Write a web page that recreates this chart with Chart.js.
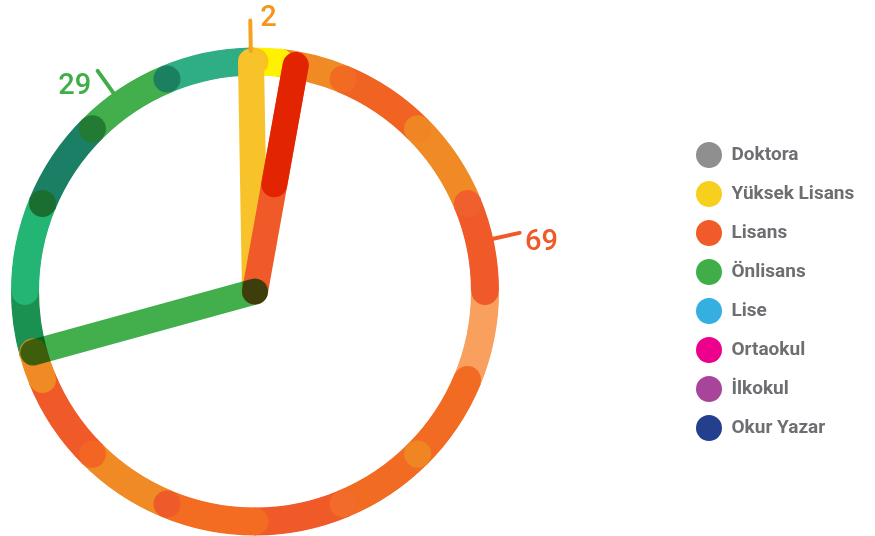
<!DOCTYPE html>
<html>
<head>
<meta charset="utf-8">
<script src="https://cdn.jsdelivr.net/npm/chart.js@4/dist/chart.umd.min.js"></script>
<style>
  html, body { margin: 0; padding: 0; background: #ffffff; overflow: hidden; }
  #wrap { width: 875px; height: 536px; position: relative; overflow: hidden; }
  #dial { position: absolute; top: 0; left: -173px; }
</style>
</head>
<body>
<div id="wrap"><canvas id="dial"></canvas></div>
<script>
// Education levels and their shares (percent)
const categories = ['Doktora', 'Yüksek Lisans', 'Lisans', 'Önlisans', 'Lise', 'Ortaokul', 'İlkokul', 'Okur Yazar'];
const values = [0, 2, 69, 29, 0, 0, 0, 0];
const categoryColors = ['#8f8f8f', '#f7cf1d', '#f15a29', '#3fae49', '#35aee0', '#ec008c', '#a8459a', '#233f8e'];

// Shades used for the ring pieces of each slice (pieces are cut every 1/16 turn)
const ringShades = {
  'Yüksek Lisans': ['#fff200'],
  'Lisans': ['#f08a24', '#f16322', '#f08a24', '#f05a28', '#f9a05e', '#f26b22',
             '#f26b22', '#f05a28', '#f36c21', '#f08a24', '#f05a28', '#f08a24'],
  'Önlisans': ['#1a9150', '#22b573', '#1a7f64', '#42ae4c', '#2fad85']
};
// Colours of the round joints between pieces
const jointShades = {
  'Yüksek Lisans': ['#fbc31a'],
  'Lisans': ['#f26b22', '#f08524', '#f0602e', '#f05a28', '#f26b22', '#f08524',
             '#f26b2a', '#f36c21', '#ef5a2a', '#f26522', '#f08a24'],
  'Önlisans': ['#22b573', '#1a6e30', '#237a33', '#1a8060']
};
// Needle drawn at the start of each slice
const needleStyle = {
  'Yüksek Lisans': { color: '#f8c22a', nudge: 0 },
  'Lisans': { color: '#f05a28', tip: '#e32400', tipFrom: 109, nudge: 4 },
  'Önlisans': { color: '#42ae4c', blend: 'multiply', nudge: 0 }
};
// Value callouts outside the ring (angle in degrees, clockwise from 12 o'clock)
const valueLabelStyle = {
  'Yüksek Lisans': { angle: -1, text: '#f7941d', tick: '#f6a21f', align: 'left', dx: 10, dy: 5.5 },
  'Lisans': { angle: 77.5, text: '#f05a28', tick: '#f05a28', align: 'left', dx: 5.5, dy: 17 },
  'Önlisans': { angle: 324.5, text: '#3fae49', tick: '#3fae49', align: 'right', dx: -6.5, dy: 23 }
};

const QUARTER = Math.PI / 2;
const STEP = Math.PI / 8;

const clockDial = {
  id: 'clockDial',
  afterDatasetsDraw(chart) {
    const ctx = chart.ctx;
    const meta = chart.getDatasetMeta(0);
    const data = chart.data.datasets[0].data;
    const labels = chart.data.labels;
    const arcs = meta.data;
    if (!arcs.length) return;
    const cx = arcs[0].x, cy = arcs[0].y;
    const mid = (arcs[0].innerRadius + arcs[0].outerRadius) / 2;
    const band = arcs[0].outerRadius - arcs[0].innerRadius;
    const at = (a, r) => [cx + Math.cos(a) * r, cy + Math.sin(a) * r];

    // split every non-empty slice at the 1/16-turn grid
    const pieces = arcs.map((arc, i) => {
      if (!data[i]) return null;
      const q0 = arc.startAngle + QUARTER, q1 = arc.endAngle + QUARTER;
      const cuts = [q0];
      for (let k = Math.ceil(q0 / STEP - 1e-9); k * STEP < q1 - 1e-9; k++) {
        if (k * STEP > q0 + 1e-9) cuts.push(k * STEP);
      }
      cuts.push(q1);
      return cuts;
    });

    ctx.save();
    ctx.lineCap = 'butt';
    ctx.lineWidth = band + 1;
    pieces.forEach((cuts, i) => {
      if (!cuts) return;
      const shades = ringShades[labels[i]];
      for (let j = 0; j < cuts.length - 1; j++) {
        ctx.beginPath();
        ctx.strokeStyle = shades[j % shades.length];
        ctx.arc(cx, cy, mid, cuts[j] - QUARTER - 0.004, cuts[j + 1] - QUARTER + 0.004);
        ctx.stroke();
      }
    });
    // rounded end of each slice, laid over the start of the next one
    pieces.forEach((cuts, i) => {
      if (!cuts) return;
      const shades = ringShades[labels[i]];
      const [x, y] = at(cuts[cuts.length - 1] - QUARTER, mid);
      ctx.beginPath();
      ctx.fillStyle = shades[(cuts.length - 2) % shades.length];
      ctx.arc(x, y, band / 2 + 0.5, 0, Math.PI * 2);
      ctx.fill();
    });
    // joints
    pieces.forEach((cuts, i) => {
      if (!cuts) return;
      const shades = jointShades[labels[i]];
      for (let j = 1; j < cuts.length - 1; j++) {
        const [x, y] = at(cuts[j] - QUARTER, mid);
        ctx.beginPath();
        ctx.fillStyle = shades[(j - 1) % shades.length];
        ctx.arc(x, y, band / 2, 0, Math.PI * 2);
        ctx.fill();
      }
    });

    // needles
    ctx.lineCap = 'round';
    ctx.lineWidth = band - 1;
    arcs.forEach((arc, i) => {
      if (!data[i]) return;
      const st = needleStyle[labels[i]];
      if (!st) return;
      const a = arc.startAngle + (st.nudge || 0) * Math.PI / 180;
      const [tx, ty] = at(a, mid);
      ctx.globalCompositeOperation = st.blend || 'source-over';
      ctx.strokeStyle = st.color;
      ctx.beginPath();
      ctx.moveTo(cx, cy);
      ctx.lineTo(tx, ty);
      ctx.stroke();
      if (st.tip) {
        const [bx, by] = at(a, st.tipFrom);
        ctx.strokeStyle = st.tip;
        ctx.beginPath();
        ctx.moveTo(bx, by);
        ctx.lineTo(tx, ty);
        ctx.stroke();
      }
    });
    ctx.globalCompositeOperation = 'source-over';

    // value callouts
    ctx.lineWidth = 4;
    ctx.font = '500 29px Roboto';
    ctx.textBaseline = 'alphabetic';
    arcs.forEach((arc, i) => {
      if (!data[i]) return;
      const lab = valueLabelStyle[labels[i]];
      if (!lab) return;
      const a = (lab.angle - 90) * Math.PI / 180;
      const [ix, iy] = at(a, arc.outerRadius - 3);
      const [ox, oy] = at(a, arc.outerRadius + 27.5);
      ctx.strokeStyle = lab.tick;
      ctx.beginPath();
      ctx.moveTo(ix, iy);
      ctx.lineTo(ox, oy);
      ctx.stroke();
      ctx.fillStyle = lab.text;
      ctx.textAlign = lab.align;
      ctx.fillText(String(data[i]), ox + lab.dx, oy + lab.dy);
    });
    ctx.restore();
  }
};

// Legend geometry: dial area is 856px wide, legend sits right after it
const legendFont = { family: 'Roboto', size: 19, weight: 'bold' };
const legendPad = 13, legendBox = 26, dialWidth = 856;
const probe = document.createElement('canvas').getContext('2d');
probe.font = 'bold 19px Roboto';
const widestLabel = Math.max(...categories.map(t => probe.measureText(t).width));
const legendWidth = legendPad + legendBox + legendFont.size / 2 + widestLabel + 10;
const canvas = document.getElementById('dial');
canvas.width = Math.ceil(dialWidth + legendWidth) + 4;
canvas.height = 536;
const rightPad = canvas.width - dialWidth - legendWidth;

const legendLabels = Chart.overrides.doughnut.plugins.legend.labels.generateLabels;

new Chart(canvas, {
  type: 'doughnut',
  data: {
    labels: categories,
    datasets: [{
      data: values,
      backgroundColor: categoryColors,
      borderWidth: 0,
      hoverOffset: 0,
      offset: 0
    }]
  },
  options: {
    responsive: false,
    animation: false,
    events: [],
    rotation: -1,
    radius: 243.5,
    cutout: '88.9%',
    layout: { padding: { left: 0, right: rightPad, top: 47, bottom: 0 } },
    plugins: {
      tooltip: { enabled: false },
      legend: {
        position: 'right',
        align: 'center',
        labels: {
          boxWidth: legendBox,
          boxHeight: legendBox,
          padding: legendPad,
          color: '#6d6e71',
          font: legendFont,
          useBorderRadius: true,
          borderRadius: 13,
          generateLabels(chart) {
            return legendLabels(chart).map(item => Object.assign(item, { borderRadius: 13, lineWidth: 0 }));
          }
        }
      }
    }
  },
  plugins: [clockDial]
});
</script>
</body>
</html>
